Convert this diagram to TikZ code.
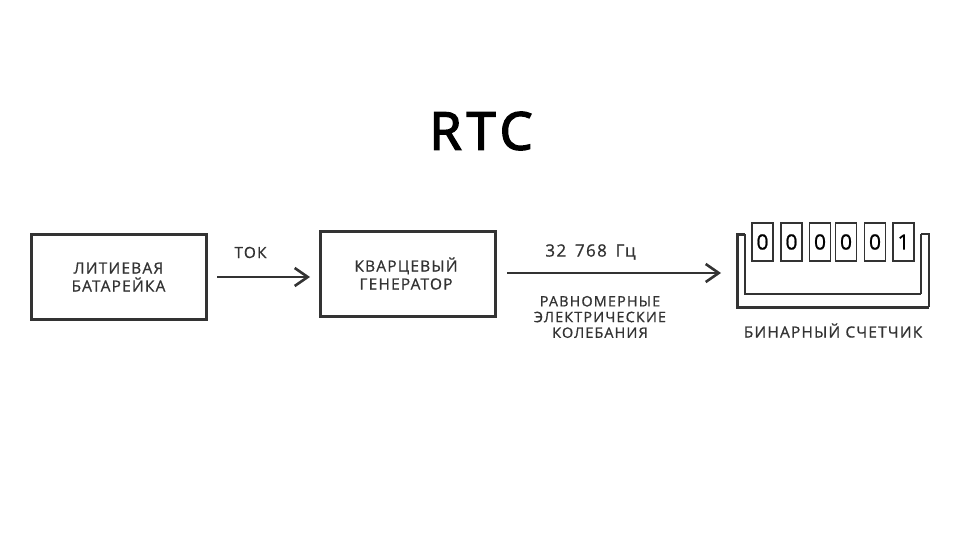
\documentclass[tikz,border=0pt]{standalone}
\usepackage{fontspec}
\setmainfont[LetterSpace=8,FakeBold=0.9]{Open Sans}
\newfontfamily\titlefont[LetterSpace=10,FakeBold=3]{Open Sans}
\usetikzlibrary{arrows.meta}
\definecolor{ink}{HTML}{333333}
\tikzset{
  x=1pt,y=-1pt,
  block/.style={draw=ink,line width=3pt,minimum width=175pt,minimum height=85pt,inner sep=0pt},
  digitbox/.style={draw=ink,line width=1.6pt,minimum width=21pt,minimum height=38pt,inner sep=0pt,font=\fontsize{21}{21}\selectfont},
  label/.style={text=ink,align=center,inner sep=0pt,font=\fontsize{15.4}{18}\selectfont},
  flow/.style={draw=ink,line width=2.4pt,-{Straight Barb[length=13pt,width=18pt,line width=2.6pt]}},
  tray/.style={draw=ink,line cap=butt,line join=miter}
}
\begin{document}
\begin{tikzpicture}
\useasboundingbox (0,0) rectangle (960,540);
\node[text=black,inner sep=0pt,font=\titlefont\fontsize{52}{52}\selectfont] (title) at (481,131) {RTC};
\node[block] (bat) at (119,277) {};
\node[block] (osc) at (408,273.5) {};
\node[label] (batl) at (118.5,277) {ЛИТИЕВАЯ\\БАТАРЕЙКА};
\node[label] (oscl) at (406,273.5) {КВАРЦЕВЫЙ\\ГЕНЕРАТОР};
\node[label] (tok) at (250.5,252.5) {ТОК};
\node[label,font=\fontsize{17}{18}\selectfont] (hz) at (590.5,252) {32\hspace{3pt} 768\hspace{3pt} Гц};
\node[label,font=\fontsize{14.4}{15.7}\selectfont] (osclabel) at (600,317) {РАВНОМЕРНЫЕ\\ЭЛЕКТРИЧЕСКИЕ\\КОЛЕБАНИЯ};
\node[label] (cntl) at (833,330.5) {БИНАРНЫЙ СЧЕТЧИК};
\coordinate (cntin) at (737,273);
\draw[flow,shorten <=9pt,shorten >=9pt] (bat.east) -- (bat.east -| osc.west) ;
\draw[flow,shorten <=10pt,shorten >=16pt] (osc.east |- cntin) -- (cntin);
\coordinate (tl) at (737,234);
\coordinate (tr) at (929,234);
\coordinate (bl) at (737,307);
\coordinate (br) at (929,307);
\coordinate (il) at (745,234);
\coordinate (ir) at (921,234);
\coordinate (ibl) at (745,294);
\coordinate (ibr) at (921,294);
\draw[tray,line width=3pt] (il) -- (tl) -- (bl) -- (br);
\draw[tray,line width=1.8pt] (br) -- (tr) -- (ir);
\draw[tray,line width=2.6pt] (il) -- (ibl) -- (ibr);
\draw[tray,line width=1.6pt] (ibr) -- (ir);
\node[digitbox] (d1) at (762.5,242) {0};
\node[digitbox] (d2) at (791.5,242) {0};
\node[digitbox] (d3) at (820,242) {0};
\node[digitbox] (d4) at (846,242) {0};
\node[digitbox] (d5) at (875,242) {0};
\node[digitbox] (d6) at (903.5,242) {1};
\end{tikzpicture}
\end{document}
